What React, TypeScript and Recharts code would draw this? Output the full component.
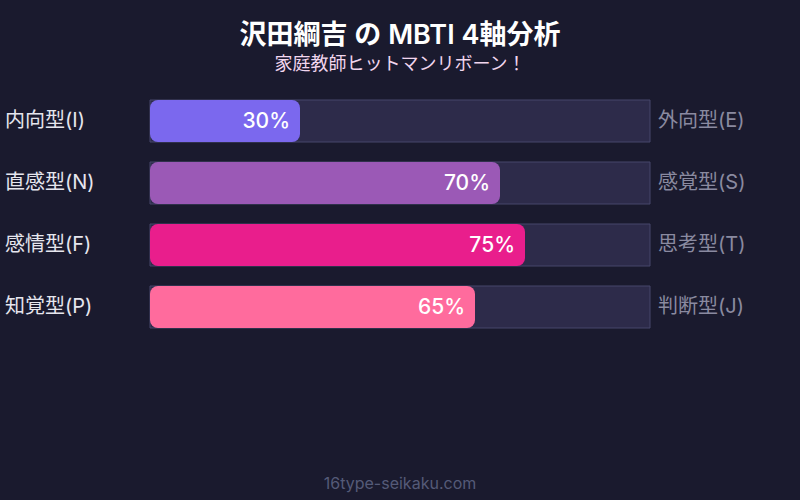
import { Bar, BarChart, Cell, LabelList, XAxis, YAxis } from "recharts"

const leftLabels = ["内向型(I)", "直感型(N)", "感情型(F)", "知覚型(P)"]
const rightLabels = ["外向型(E)", "感覚型(S)", "思考型(T)", "判断型(J)"]
const values = [30, 70, 75, 65]
const colors = ["#7b68ee", "#9b59b6", "#e91e8c", "#ff6b9d"]

const data = leftLabels.map((left, i) => ({ left, right: rightLabels[i], value: values[i] }))

const font = "Inter, 'Noto Sans CJK JP', sans-serif"

const LeftTick = (props: any) => (
    <text x={5} y={props.y} dy={6} textAnchor="start" fill="#e6e6ee" fontSize={20} fontFamily={font}>
        {props.payload.value}
    </text>
)

const RightTick = (props: any) => (
    <text x={658} y={props.y} dy={6} textAnchor="start" fill="#8a8aa0" fontSize={20} fontFamily={font}>
        {props.payload.value}
    </text>
)

export default function App() {
    return (
        <div style={{ position: "fixed", left: 0, top: 0, width: 800, height: 500, background: "#1a1a2e", fontFamily: font }}>
            <div style={{ position: "absolute", top: 13, width: 800, textAlign: "center", color: "#ffffff", fontSize: 27, fontWeight: 600 }}>
                沢田綱吉 の MBTI 4軸分析
            </div>
            <div style={{ position: "absolute", top: 49, width: 800, textAlign: "center", color: "#f2d6ee", fontSize: 18 }}>
                家庭教師ヒットマンリボーン！
            </div>
            <div style={{ position: "absolute", top: 473, width: 800, textAlign: "center", color: "#555a78", fontSize: 16 }}>
                16type-seikaku.com
            </div>
            <BarChart
                width={800}
                height={500}
                data={data}
                layout="vertical"
                margin={{ top: 90, right: 0, bottom: 162, left: 0 }}
                barCategoryGap={10}
                style={{ position: "absolute", left: 0, top: 0 }}
            >
                <XAxis type="number" domain={[0, 100]} hide />
                <YAxis yAxisId="left" type="category" dataKey="left" width={150} axisLine={false} tickLine={false} tick={LeftTick} />
                <YAxis yAxisId="right" orientation="right" type="category" dataKey="right" width={150} axisLine={false} tickLine={false} tick={RightTick} />
                <Bar
                    yAxisId="left"
                    dataKey="value"
                    radius={8}
                    isAnimationActive={false}
                    background={{ fill: "#2d2b4a", stroke: "#46466a", strokeWidth: 1 }}
                >
                    {data.map((d, i) => (
                        <Cell key={d.left} fill={colors[i]} />
                    ))}
                    <LabelList
                        dataKey="value"
                        position="insideRight"
                        offset={10}
                        formatter={(v: any) => `${v}%`}
                        fill="#ffffff"
                        fontSize={21}
                        fontWeight={500}
                        fontFamily={font}
                    />
                </Bar>
            </BarChart>
        </div>
    )
}
